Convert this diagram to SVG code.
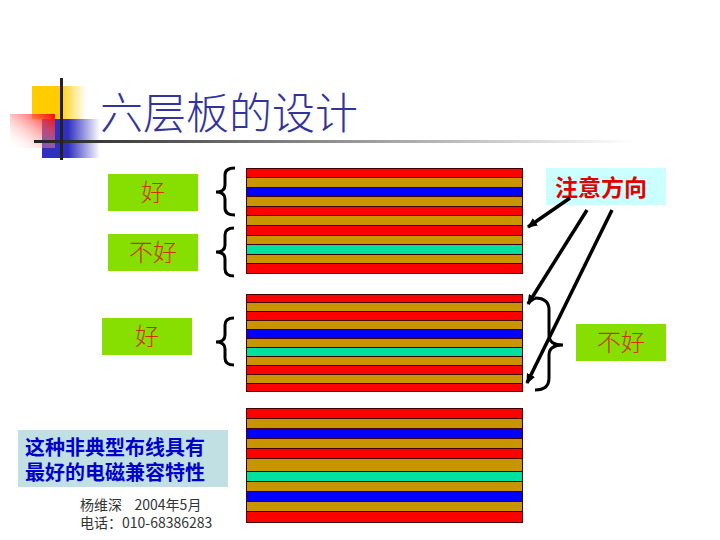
<svg xmlns="http://www.w3.org/2000/svg" width="720" height="540" viewBox="0 0 720 540">
<style>
text{font-family:"Noto Sans CJK SC","Liberation Sans",sans-serif}
.lbl{fill:#cc3300;font-size:24px;text-anchor:middle;font-weight:300}
.box{fill:#86df00}
.r{fill:#ff0000}.o{fill:#c89400}.b{fill:#0000ff}.g{fill:#00e0a0}
.layers rect{stroke:#400000;stroke-width:1}
.brace{fill:none;stroke:#000;stroke-width:3}
.arrow{fill:none;stroke:#000;stroke-width:3.5;marker-end:url(#ah)}
.foot{fill:#333;font-size:14px}
.note{fill:#0000cc;font-size:20px;font-weight:700}
</style>
<defs>
<marker id="ah" markerUnits="userSpaceOnUse" markerWidth="10" markerHeight="9" refX="9" refY="4.5" orient="auto"><path d="M0 0L10 4.5L0 9Z" fill="#000"/></marker>
<linearGradient id="gy"><stop offset="0.5" stop-color="#ffcc00"/><stop offset="1" stop-color="#ffcc00" stop-opacity="0"/></linearGradient>
<linearGradient id="gb"><stop offset="0.45" stop-color="#3030c0"/><stop offset="1" stop-color="#3030c0" stop-opacity="0"/></linearGradient>
<linearGradient id="gr" x1="1" y1="0" x2="0" y2="1"><stop offset="0" stop-color="#ff0000"/><stop offset="1" stop-color="#ffffff" stop-opacity="0"/></linearGradient>
<linearGradient id="gl"><stop offset="0" stop-color="#222"/><stop offset="1" stop-color="#fff"/></linearGradient>
</defs>
<g id="logo">
<rect x="32" y="86" width="54" height="33" fill="url(#gy)"/>
<rect x="42" y="119" width="58" height="39" fill="url(#gb)"/>
<rect x="10" y="114" width="45" height="34" fill="url(#gr)"/>
<rect x="34" y="140" width="600" height="3" fill="url(#gl)"/>
<rect x="60" y="78" width="3" height="82" fill="#222"/>
</g>
<g id="title"><text x="100" y="129" font-size="43" font-weight="300" fill="#333399">六层板的设计</text></g>
<g id="n-good1"><rect class="box" x="108" y="174" width="90" height="37"/><text class="lbl" x="153" y="201">好</text></g>
<g id="n-bad1"><rect class="box" x="108" y="234" width="90" height="37"/><text class="lbl" x="153" y="261">不好</text></g>
<g id="n-good2"><rect class="box" x="102" y="318" width="90" height="37"/><text class="lbl" x="147" y="345">好</text></g>
<g id="n-bad2"><rect class="box" x="576" y="324" width="90" height="37"/><text class="lbl" x="621" y="351">不好</text></g>
<g id="n-dir"><rect x="546" y="168" width="120" height="37" fill="#ccffff"/><text x="601" y="196" font-size="23" font-weight="700" fill="#e00000" text-anchor="middle">注意方向</text></g>
<g id="n-note"><rect x="18" y="430" width="210" height="57" fill="#c0e0e4"/><text class="note"><tspan x="25" y="455">这种非典型布线具有</tspan><tspan x="25" y="480">最好的电磁兼容特性</tspan></text></g>
<g id="n-foot"><text class="foot" xml:space="preserve"><tspan x="80" y="510">杨维深    2004年5月</tspan><tspan x="80" y="528">电话：010-68386283</tspan></text></g>
<g id="stack1" class="layers">
<rect class="r" x="246.5" y="168.5" width="276" height="9"/>
<rect class="o" x="246.5" y="177.5" width="276" height="10"/>
<rect class="b" x="246.5" y="187.5" width="276" height="9"/>
<rect class="o" x="246.5" y="196.5" width="276" height="10"/>
<rect class="r" x="246.5" y="206.5" width="276" height="9"/>
<rect class="o" x="246.5" y="215.5" width="276" height="10"/>
<rect class="r" x="246.5" y="225.5" width="276" height="10"/>
<rect class="o" x="246.5" y="235.5" width="276" height="9"/>
<rect class="g" x="246.5" y="244.5" width="276" height="10"/>
<rect class="o" x="246.5" y="254.5" width="276" height="9"/>
<rect class="r" x="246.5" y="263.5" width="276" height="10"/>
</g>
<g id="stack2" class="layers">
<rect class="r" x="246.5" y="294.5" width="276" height="8"/>
<rect class="o" x="246.5" y="302.5" width="276" height="9"/>
<rect class="r" x="246.5" y="311.5" width="276" height="9"/>
<rect class="o" x="246.5" y="320.5" width="276" height="9"/>
<rect class="b" x="246.5" y="329.5" width="276" height="9"/>
<rect class="o" x="246.5" y="338.5" width="276" height="9"/>
<rect class="g" x="246.5" y="347.5" width="276" height="9"/>
<rect class="o" x="246.5" y="356.5" width="276" height="9"/>
<rect class="r" x="246.5" y="365.5" width="276" height="9"/>
<rect class="o" x="246.5" y="374.5" width="276" height="9"/>
<rect class="r" x="246.5" y="383.5" width="276" height="8"/>
</g>
<g id="stack3" class="layers">
<rect class="r" x="246.5" y="408.5" width="276" height="10"/>
<rect class="o" x="246.5" y="418.5" width="276" height="10"/>
<rect class="b" x="246.5" y="428.5" width="276" height="10"/>
<rect class="o" x="246.5" y="438.5" width="276" height="10"/>
<rect class="r" x="246.5" y="448.5" width="276" height="10"/>
<rect class="o" x="246.5" y="458.5" width="276" height="13"/>
<rect class="g" x="246.5" y="471.5" width="276" height="10"/>
<rect class="o" x="246.5" y="481.5" width="276" height="10"/>
<rect class="b" x="246.5" y="491.5" width="276" height="10"/>
<rect class="o" x="246.5" y="501.5" width="276" height="10"/>
<rect class="r" x="246.5" y="511.5" width="276" height="11"/>
</g>
<g id="connectors">
<path class="brace" d="M235 168Q225 168 225 175V185Q225 192 216 192Q225 192 225 199V208Q225 215 235 215"/>
<path class="brace" d="M234 228Q225 228 225 235V245Q225 252 216 252Q225 252 225 259V269Q225 276 234 276"/>
<path class="brace" d="M234 318Q225 318 225 325V335Q225 342 216 342Q225 342 225 349V358Q225 365 234 365"/>
<path class="brace" d="M535 298Q549 298 549 310V335Q549 345 563 345Q549 345 549 355V378Q549 390 535 390"/>
<path class="arrow" d="M570 198L528 227"/>
<path class="arrow" d="M587 210L528 304"/>
<path class="arrow" d="M612 210L527 383"/>
</g>
</svg>
